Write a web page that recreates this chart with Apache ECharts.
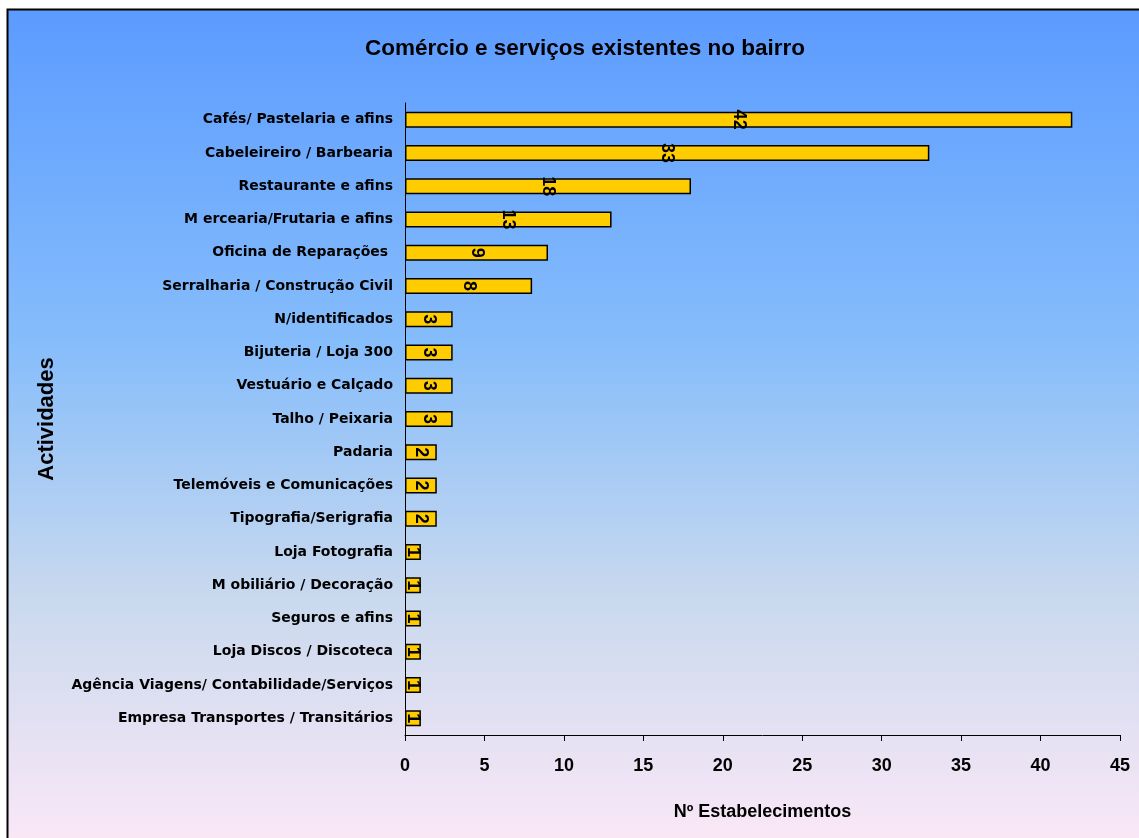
<!DOCTYPE html>
<html>
<head>
<meta charset="utf-8">
<script src="https://cdn.jsdelivr.net/npm/echarts@6/dist/echarts.min.js"></script>
<style>
html,body{margin:0;padding:0;background:#fff;}
#c{width:1139px;height:838px;}
</style>
</head>
<body>
<div id="c"></div>
<script>
const categories = [
  "Cafés/ Pastelaria e afins",
  "Cabeleireiro / Barbearia",
  "Restaurante e afins",
  "M ercearia/Frutaria e afins",
  "Oficina de Reparações ",
  "Serralharia / Construção Civil",
  "N/identificados",
  "Bijuteria / Loja 300",
  "Vestuário e Calçado",
  "Talho / Peixaria",
  "Padaria",
  "Telemóveis e Comunicações",
  "Tipografia/Serigrafia",
  "Loja Fotografia",
  "M obiliário / Decoração",
  "Seguros e afins",
  "Loja Discos / Discoteca",
  "Agência Viagens/ Contabilidade/Serviços",
  "Empresa Transportes / Transitários"
];
const values = [42, 33, 18, 13, 9, 8, 3, 3, 3, 3, 2, 2, 2, 1, 1, 1, 1, 1, 1];
const xTicks = [0, 5, 10, 15, 20, 25, 30, 35, 40, 45];

const chart = echarts.init(document.getElementById('c'));
chart.setOption({
  animation: false,
  backgroundColor: '#ffffff',
  graphic: [{
    type: 'rect',
    z: -10,
    shape: {x: 7.5, y: 9.5, width: 1140, height: 840},
    style: {
      fill: new echarts.graphic.LinearGradient(0, 0, 0, 1, [
        {offset: 0, color: '#5b9bff'},
        {offset: 0.4, color: '#86bdfb'},
        {offset: 0.7, color: '#c9d9ee'},
        {offset: 1, color: '#fce8f7'}
      ]),
      stroke: '#000',
      lineWidth: 2
    }
  }],
  title: {
    text: 'Comércio e serviços existentes no bairro',
    left: 580, top: 32, textAlign: 'center',
    textStyle: {fontFamily: 'Liberation Sans', fontWeight: 'bold', fontSize: 22.5, color: '#000'}
  },
  grid: {left: 405, right: 19, top: 103, bottom: 103},
  xAxis: {
    type: 'value', min: 0, max: 45, interval: 5,
    name: 'Nº Estabelecimentos', nameLocation: 'middle', nameGap: 68,
    nameTextStyle: {fontFamily: 'Liberation Sans', fontWeight: 'bold', fontSize: 18, color: '#000'},
    axisLine: {show: true, lineStyle: {color: '#000', width: 1}},
    axisTick: {show: true, length: 6, lineStyle: {color: '#000'}},
    splitLine: {show: false},
    axisLabel: {
      margin: 22, fontFamily: 'Liberation Sans', fontWeight: 'bold', fontSize: 18, color: '#000',
      formatter: v => xTicks.includes(v) ? String(v) : ''
    }
  },
  yAxis: {
    type: 'category', data: categories, inverse: true,
    name: 'Actividades', nameLocation: 'middle', nameGap: 347, nameRotate: 90,
    nameTextStyle: {fontFamily: 'Liberation Sans', fontWeight: 'bold', fontSize: 22, color: '#000'},
    axisLine: {show: true, lineStyle: {color: '#000', width: 1}},
    axisTick: {show: false},
    axisLabel: {
      margin: 12, fontFamily: 'DejaVu Sans', fontWeight: 'bold', fontSize: 14, color: '#000'
    }
  },
  series: [{
    type: 'bar',
    data: values,
    barWidth: 16,
    itemStyle: {color: '#ffcc00', borderColor: '#000', borderWidth: 1.5},
    label: {
      show: true, position: 'inside', rotate: -90,
      fontFamily: 'Liberation Sans', fontWeight: 'bold', fontSize: 18, color: '#000'
    }
  }]
});
</script>
</body>
</html>
